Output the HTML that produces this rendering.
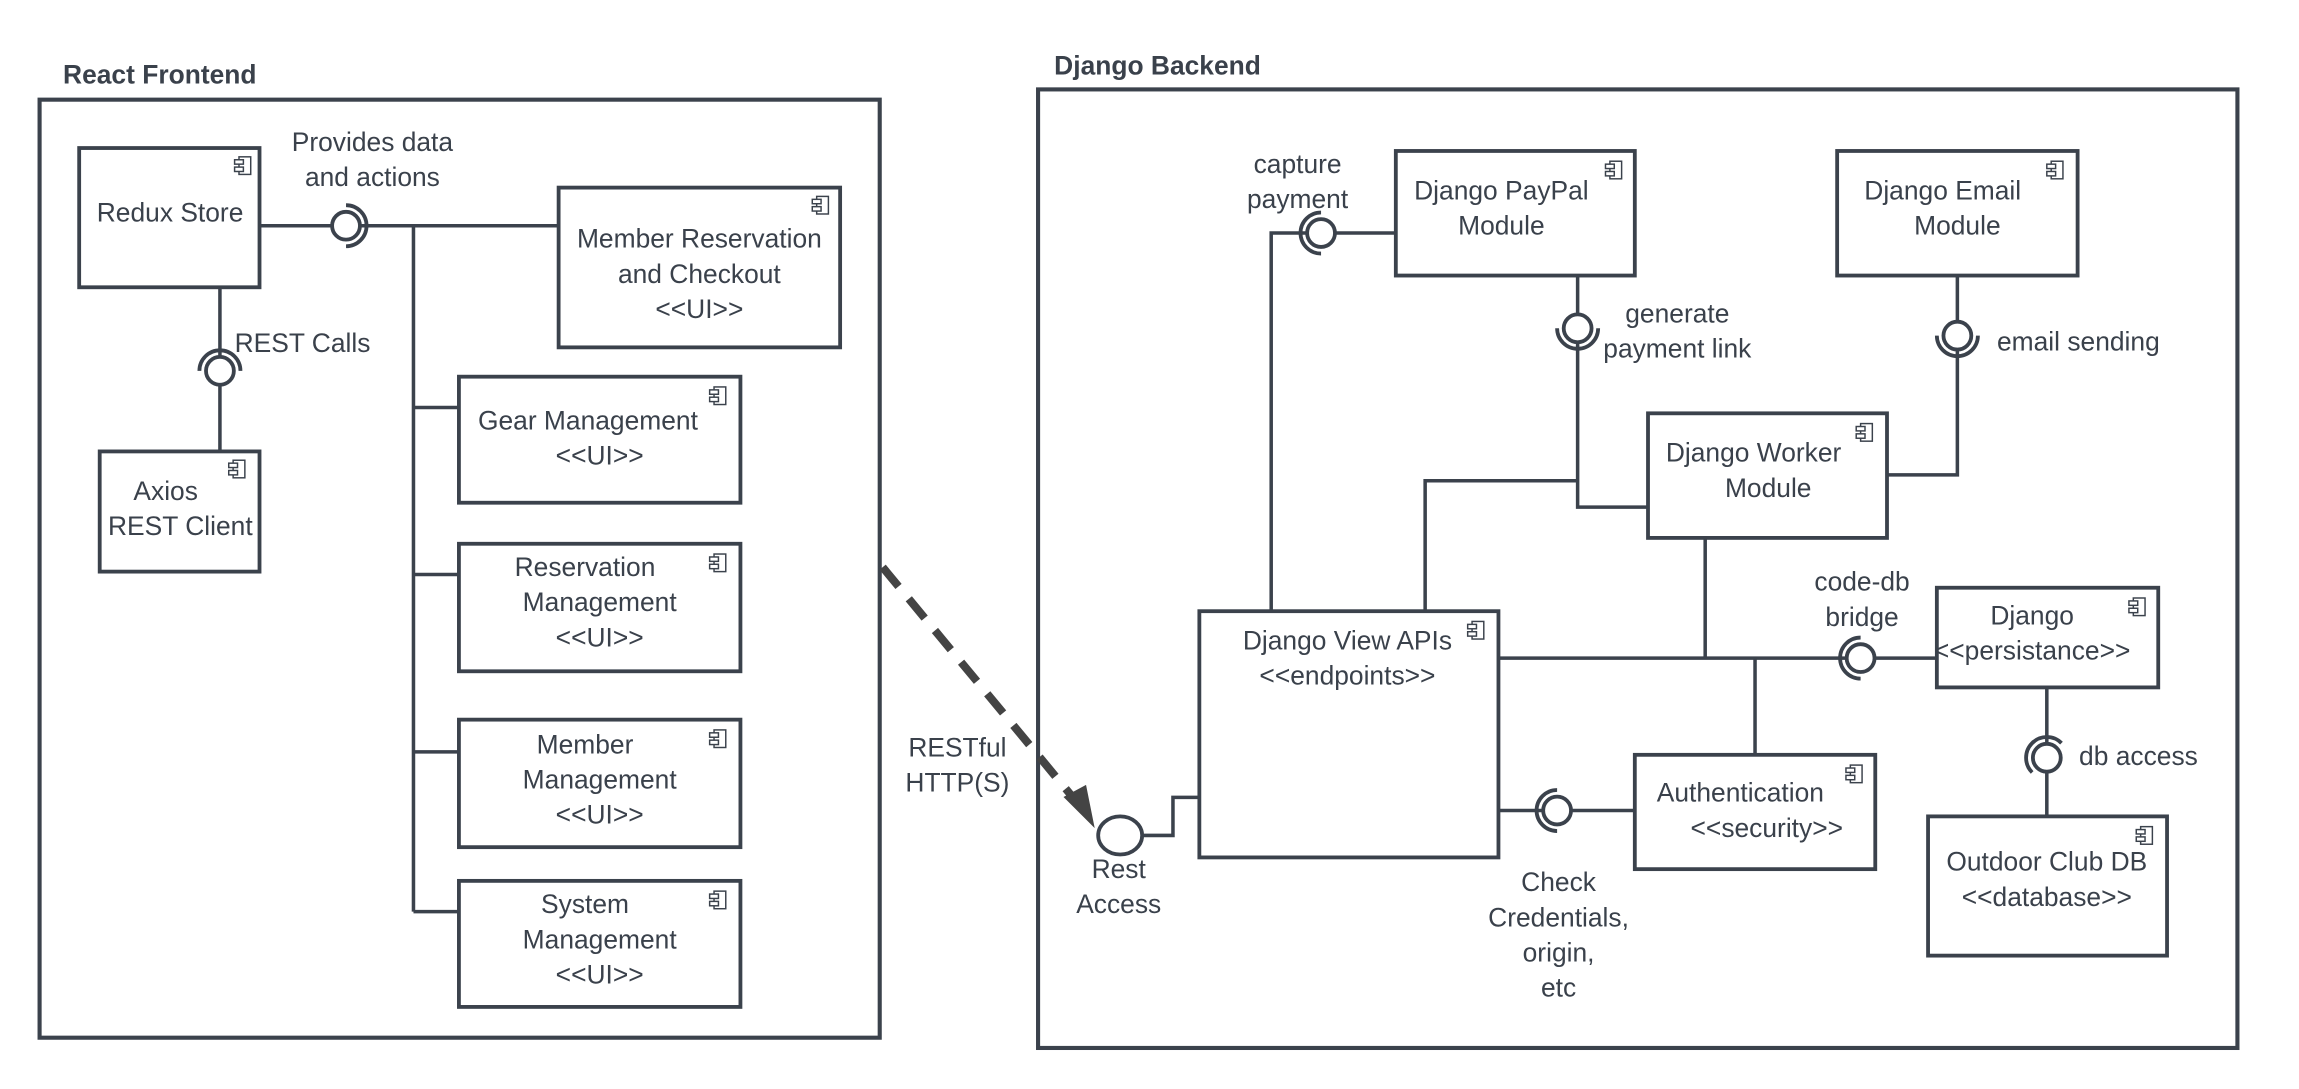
<!DOCTYPE html>
<html><head><meta charset="utf-8"><style>
html,body{margin:0;padding:0;background:#fff;}
svg{display:block;}
text{font-family:"Liberation Sans",sans-serif;fill:#3a414b;font-size:18px;}
.b{font-weight:bold;font-size:18px;}
.bx{fill:#fff;stroke:#3b424c;stroke-width:2.6;}
.fr{fill:none;stroke:#3b424c;stroke-width:2.8;}
.ln{fill:none;stroke:#3b424c;stroke-width:2.4;}
.c{fill:#fff;stroke:#3b424c;stroke-width:2.6;}
.s{fill:none;stroke:#3b424c;stroke-width:2.6;}
.ic{fill:#fff;stroke:#3b424c;stroke-width:1;}
</style></head><body>
<svg width="2299" height="1089" viewBox="0 0 1568 743" preserveAspectRatio="none" xmlns="http://www.w3.org/2000/svg">
<defs>
<g id="ic"><rect class="ic" x="0" y="0" width="8" height="12"/><rect class="ic" x="-3" y="2" width="6" height="3"/><rect class="ic" x="-3" y="7" width="6" height="3"/></g>
</defs>
<text class="b" x="43" y="57">React Frontend</text>
<rect class="fr" x="27" y="68" width="573" height="640"/>
<path class="ln" d="M177 154H226M246 154H381M282 154V622M282 278H313M282 392H313M282 513H313M282 622H313M150 196V243M150 263V308"/>
<rect class="bx" x="54" y="101" width="123" height="95"/><use href="#ic" x="163" y="107"/>
<text x="116" y="151" text-anchor="middle">Redux Store</text>
<circle class="c" cx="236" cy="154" r="9.5"/><path class="s" d="M236 140 A14 14 0 0 1 236 168"/>
<text x="254" y="103" text-anchor="middle">Provides data</text>
<text x="254" y="127" text-anchor="middle">and actions</text>
<circle class="c" cx="150" cy="253" r="9.5"/><path class="s" d="M136 253 A14 14 0 0 1 164 253"/>
<text x="160" y="240">REST Calls</text>
<rect class="bx" x="68" y="308" width="109" height="82"/><use href="#ic" x="159" y="314"/>
<text x="113" y="341" text-anchor="middle">Axios</text>
<text x="123" y="365" text-anchor="middle">REST Client</text>
<rect class="bx" x="381" y="128" width="192" height="109"/><use href="#ic" x="557" y="134"/>
<text x="477" y="169" text-anchor="middle">Member Reservation</text>
<text x="477" y="193" text-anchor="middle">and Checkout</text>
<text x="477" y="217" text-anchor="middle">&lt;&lt;UI&gt;&gt;</text>
<rect class="bx" x="313" y="257" width="192" height="86"/><use href="#ic" x="487" y="264"/>
<text x="401" y="293" text-anchor="middle">Gear Management</text>
<text x="409" y="317" text-anchor="middle">&lt;&lt;UI&gt;&gt;</text>
<rect class="bx" x="313" y="371" width="192" height="87"/><use href="#ic" x="487" y="378"/>
<text x="399" y="393" text-anchor="middle">Reservation</text>
<text x="409" y="417" text-anchor="middle">Management</text>
<text x="409" y="441" text-anchor="middle">&lt;&lt;UI&gt;&gt;</text>
<rect class="bx" x="313" y="491" width="192" height="87"/><use href="#ic" x="487" y="498"/>
<text x="399" y="514" text-anchor="middle">Member</text>
<text x="409" y="538" text-anchor="middle">Management</text>
<text x="409" y="562" text-anchor="middle">&lt;&lt;UI&gt;&gt;</text>
<rect class="bx" x="313" y="601" width="192" height="86"/><use href="#ic" x="487" y="608"/>
<text x="399" y="623" text-anchor="middle">System</text>
<text x="409" y="647" text-anchor="middle">Management</text>
<text x="409" y="671" text-anchor="middle">&lt;&lt;UI&gt;&gt;</text>
<text class="b" x="719" y="51">Django Backend</text>
<rect class="fr" x="708" y="61" width="818" height="654"/>
<path d="M602 387L735 548" stroke="#444" stroke-width="5.5" stroke-dasharray="17 11" fill="none"/>
<path d="M727 544L745 562L740 537Z" fill="#444" stroke="#444" stroke-width="2"/>
<text x="653" y="516" text-anchor="middle">RESTful</text>
<text x="653" y="540" text-anchor="middle">HTTP(S)</text>
<path class="ln" d="M779 570H800V544H818M867 417V159H891M911 159H952M1076 188V214M1076 234V346H1124M972 417V328H1076M1335 188V219M1335 239V324H1287M1022 449H1259M1279 449H1321M1163 367V449M1197 449V515M1396 469V507M1396 527V557M1022 553H1052M1072 553H1115"/>
<ellipse class="c" cx="764" cy="570" rx="15" ry="13"/>
<text x="763" y="599" text-anchor="middle">Rest</text>
<text x="763" y="623" text-anchor="middle">Access</text>
<rect class="bx" x="818" y="417" width="204" height="168"/><use href="#ic" x="1004" y="424"/>
<text x="919" y="443" text-anchor="middle">Django View APIs</text>
<text x="919" y="467" text-anchor="middle">&lt;&lt;endpoints&gt;&gt;</text>
<circle class="c" cx="901" cy="159" r="9.5"/><path class="s" d="M901 173 A14 14 0 0 1 901 145"/>
<text x="885" y="118" text-anchor="middle">capture</text>
<text x="885" y="142" text-anchor="middle">payment</text>
<rect class="bx" x="952" y="103" width="163" height="85"/><use href="#ic" x="1098" y="110"/>
<text x="1024" y="136" text-anchor="middle">Django PayPal</text>
<text x="1024" y="160" text-anchor="middle">Module</text>
<circle class="c" cx="1076" cy="224" r="9.5"/><path class="s" d="M1062 224 A14 14 0 0 0 1090 224"/>
<text x="1144" y="220" text-anchor="middle">generate</text>
<text x="1144" y="244" text-anchor="middle">payment link</text>
<rect class="bx" x="1253" y="103" width="164" height="85"/><use href="#ic" x="1399" y="110"/>
<text x="1325" y="136" text-anchor="middle">Django Email</text>
<text x="1335" y="160" text-anchor="middle">Module</text>
<circle class="c" cx="1335" cy="229" r="9.5"/><path class="s" d="M1321 229 A14 14 0 0 0 1349 229"/>
<text x="1362" y="239">email sending</text>
<rect class="bx" x="1124" y="282" width="163" height="85"/><use href="#ic" x="1269" y="289"/>
<text x="1196" y="315" text-anchor="middle">Django Worker</text>
<text x="1206" y="339" text-anchor="middle">Module</text>
<circle class="c" cx="1269" cy="449" r="9.5"/><path class="s" d="M1269 463 A14 14 0 0 1 1269 435"/>
<text x="1270" y="403" text-anchor="middle">code-db</text>
<text x="1270" y="427" text-anchor="middle">bridge</text>
<rect class="bx" x="1321" y="401" width="151" height="68"/><use href="#ic" x="1455" y="408"/>
<text x="1386" y="426" text-anchor="middle">Django</text>
<text x="1386" y="450" text-anchor="middle">&lt;&lt;persistance&gt;&gt;</text>
<circle class="c" cx="1396" cy="517" r="9.5"/><path class="s" d="M1386 527 A14 14 0 0 1 1406 507"/>
<text x="1418" y="522">db access</text>
<rect class="bx" x="1315" y="557" width="163" height="95"/><use href="#ic" x="1460" y="564"/>
<text x="1396" y="594" text-anchor="middle">Outdoor Club DB</text>
<text x="1396" y="618" text-anchor="middle">&lt;&lt;database&gt;&gt;</text>
<rect class="bx" x="1115" y="515" width="164" height="78"/><use href="#ic" x="1262" y="522"/>
<text x="1187" y="547" text-anchor="middle">Authentication</text>
<text x="1205" y="571" text-anchor="middle">&lt;&lt;security&gt;&gt;</text>
<circle class="c" cx="1062" cy="553" r="9.5"/><path class="s" d="M1062 567 A14 14 0 0 1 1062 539"/>
<text x="1063" y="608" text-anchor="middle">Check</text>
<text x="1063" y="632" text-anchor="middle">Credentials,</text>
<text x="1063" y="656" text-anchor="middle">origin,</text>
<text x="1063" y="680" text-anchor="middle">etc</text>
</svg>
</body></html>
